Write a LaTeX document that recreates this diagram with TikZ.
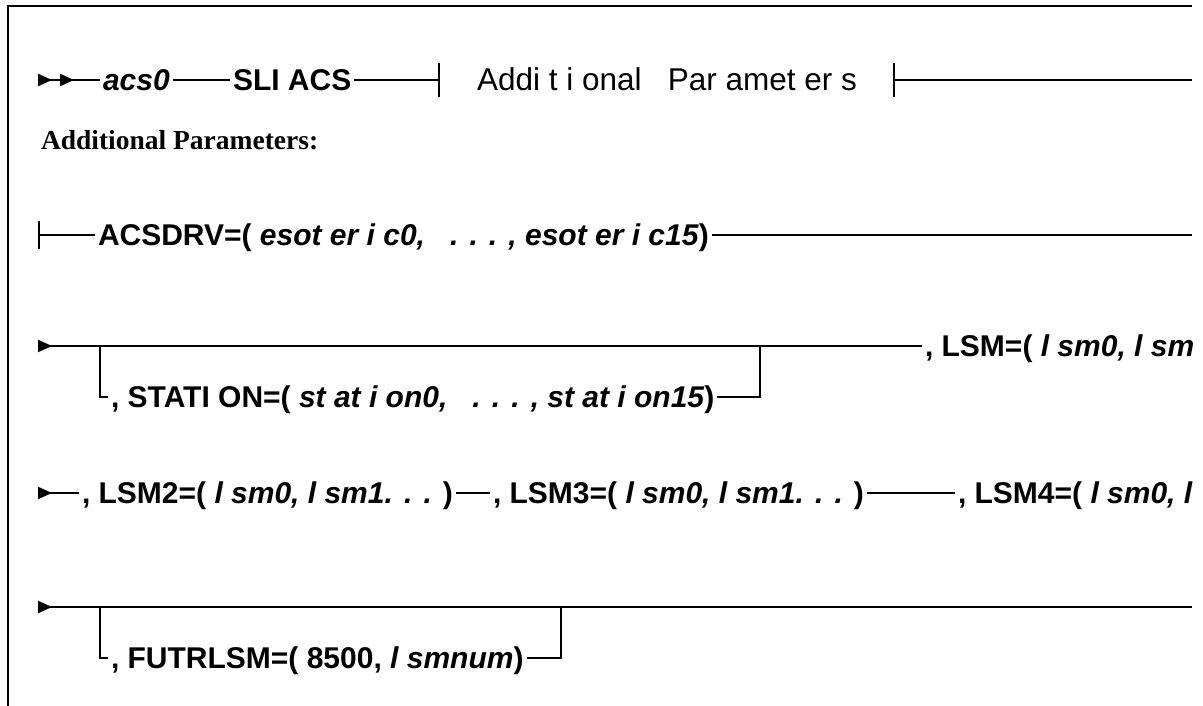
\documentclass[tikz,border=0pt]{standalone}
\usepackage{fontspec}
\setmainfont{Liberation Sans}
\newfontfamily\headfont{Liberation Serif}
\usetikzlibrary{arrows.meta}
\tikzset{
	kw/.style     = {anchor=west, inner xsep=2pt, inner ysep=0pt, text height=21.5pt,
		text depth=0pt, font=\fontsize{30}{34}\selectfont\bfseries},
	plain/.style  = {kw, font=\fontsize{31.5}{34}\selectfont},
	head/.style   = {anchor=west, inner sep=0pt, font=\fontsize{27.5}{32}\selectfont\headfont\bfseries},
	input/.style  = {coordinate}, % Input
	output/.style = {coordinate}, % Output
	fork/.style   = {coordinate}  % Branch point
}
\newcommand{\var}[1]{\textit{#1}}

\begin{document}
\begin{tikzpicture}[x=1pt, y=-1pt, line width=2pt,
	>={Triangle[length=14pt, width=12pt]}]
	\useasboundingbox (0,0) rectangle (1203,706);
	\draw[line width=2.4pt] (1192,6) -- (8,6) -- (8,706);
	\draw
	node at (38,80) [input] (in1) {}
	node at (100,80) [kw] (acs) {\var{acs0}}
	node at (230,80) [kw] (sli) {SLI ACS}
	node at (440,80) [output] (bar1) {}
	node at (474,80) [plain] (addp) {Addi t i onal\ \ \ Par amet er s}
	node at (893,80) [input] (bar2) {}
	node at (1192,80) [output] (out1) {}
	node at (40,140) [head] (hdr) {Additional Parameters:}
	node at (38,235) [input] (in2) {}
	node at (95,235) [kw] (drv) {ACSDRV=(\var{ esot er i c0,\ \ \ . . . , esot er i c15})}
	node at (1192,235) [output] (out2) {}
	node at (38,346) [input] (in3) {}
	node at (100,346) [fork] (f1) {}
	node at (108,397) [kw] (sta) {, STATI ON=(\var{ st at i on0,\ \ \ . . . , st at i on15})}
	node at (760,346) [fork] (f2) {}
	node at (922,346) [kw] (lsm) {, LSM=(\var{ l sm0, l sm}}
	node at (38,493) [input] (in4) {}
	node at (79,493) [kw] (lsm2) {, LSM2=(\var{ l sm0, l sm1. . . })}
	node at (490,493) [kw] (lsm3) {, LSM3=(\var{ l sm0, l sm1. . . })}
	node at (955,493) [kw] (lsm4) {, LSM4=(\var{ l sm0, l}}
	node at (38,607) [input] (in5) {}
	node at (100,607) [fork] (f3) {}
	node at (108,658) [kw] (fut) {, FUTRLSM=( 8500,\var{ l smnum})}
	node at (561,607) [fork] (f4) {}
	node at (1192,607) [output] (out5) {}
	;
	\draw[{>>[sep=8pt]}-](in1)--(acs);
	\draw(acs)--(sli);
	\draw[-{Bar[width=34pt]}](sli)--(bar1);
	\draw[{Bar[width=34pt]}-](bar2)--(out1);
	\draw[{Bar[width=28pt]}-](in2)--(drv);
	\draw(drv)--(out2);
	\draw[>-](in3)--(lsm);
	\draw(f1)|-(sta);
	\draw(sta)-|(f2);
	\draw[>-](in4)--(lsm2);
	\draw(lsm2)--(lsm3);
	\draw(lsm3)--(lsm4);
	\draw[>-](in5)--(out5);
	\draw(f3)|-(fut);
	\draw(fut)-|(f4);
\end{tikzpicture}
\end{document}
